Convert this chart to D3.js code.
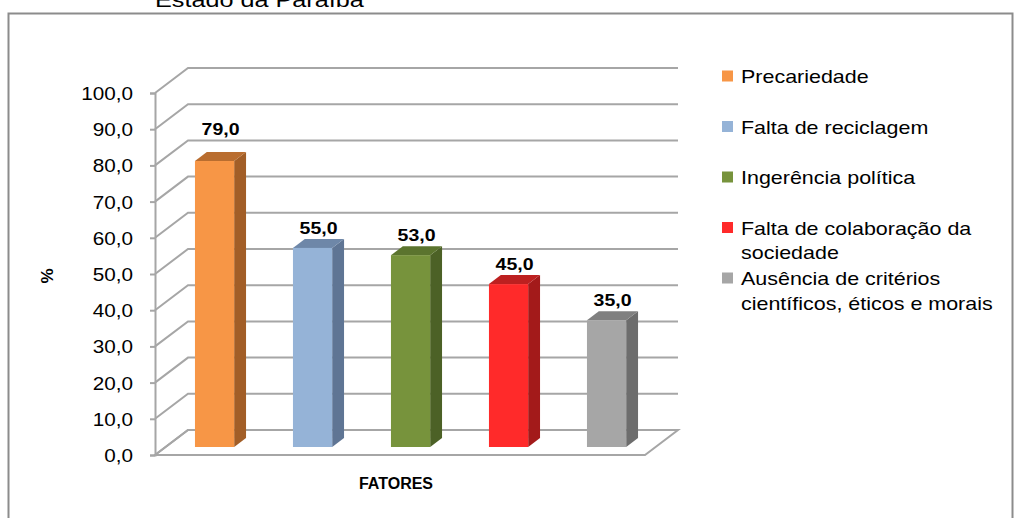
<html>
<head>
<style>
  body { margin: 0; background: #fff; }
  text { font-family: "Liberation Sans", Arial, sans-serif; }
</style>
</head>
<body>
<div id="chart"></div>
<script src="https://cdn.jsdelivr.net/npm/d3@7"></script>
<script>
// data
var fatores = ["Precariedade", "Falta de reciclagem", "Ingerência  política",
               "Falta de colaboração da sociedade", "Ausência de critérios científicos, éticos e morais"];
var valores = [79, 55, 53, 45, 35];
var legendLines = [["Precariedade"], ["Falta de reciclagem"], ["Ingerência  política"],
                   ["Falta de colaboração da", "sociedade"], ["Ausência de critérios", "científicos, éticos e morais"]];
var yTicks = [0, 10, 20, 30, 40, 50, 60, 70, 80, 90, 100];
var frontColors = ["#f79646", "#95b3d7", "#77933c", "#ff2a2a", "#a6a6a6"];
var sideColors  = ["#a25e27", "#5f7594", "#4c6126", "#a31a1a", "#6d6d6d"];
var topColors   = ["#b96d2f", "#6e87a8", "#5b742e", "#bd2020", "#808080"];

var W = 1014, H = 518;
var svg = d3.select("#chart").append("svg")
    .attr("width", W).attr("height", H);

// plot box (front plane) and depth of the 3d box
var pLeft = 155, pRight = 645, pBottom = 455, pTop = 93;
var depthX = 33, depthY = 25;

var y = d3.scaleLinear().domain([0, 100]).range([pBottom, pTop]);
var x = d3.scaleBand().domain(d3.range(fatores.length))
    .range([pLeft, pRight]).paddingInner(0.6).paddingOuter(0.3);

var fmt = function(v) { return d3.format(".1f")(v).replace(".", ","); };

// outer frame
svg.append("rect")
   .attr("x", 8.5).attr("y", 13.5).attr("width", 1004).attr("height", 530)
   .attr("fill", "none").attr("stroke", "#8c8c8c").attr("stroke-width", 2);

// title cut by the top of the picture
svg.append("text")
   .attr("transform", "translate(155,7) scale(1.2,1)")
   .attr("font-size", 21).attr("fill", "#000")
   .text("Estado da Paraíba");

// floor
svg.append("path")
   .attr("d", "M" + pLeft + "," + pBottom + "L" + pRight + "," + pBottom +
              "L" + (pRight + depthX) + "," + (pBottom - depthY) +
              "L" + (pLeft + depthX) + "," + (pBottom - depthY) + "Z")
   .attr("fill", "#fff").attr("stroke", "#a6a6a6").attr("stroke-width", 2);

// gridlines: side wall diagonal + back wall line
svg.append("g").selectAll("path")
   .data(yTicks).enter().append("path")
   .attr("d", function(d) {
      return "M" + pLeft + "," + y(d) +
             "L" + (pLeft + depthX) + "," + (y(d) - depthY) +
             "L" + (pRight + depthX) + "," + (y(d) - depthY);
   })
   .attr("fill", "none").attr("stroke", "#a6a6a6").attr("stroke-width", 2);

// y axis
var yAxis = svg.append("g")
   .attr("transform", "translate(" + pLeft + ",0)")
   .call(d3.axisLeft(y).tickValues(yTicks).tickSize(5).tickFormat(fmt));
yAxis.select(".domain").attr("stroke", "#a6a6a6").attr("stroke-width", 2);
yAxis.selectAll(".tick line").attr("stroke", "#a6a6a6").attr("stroke-width", 2);
yAxis.selectAll(".tick text")
   .attr("font-size", 18).attr("fill", "#000")
   .attr("font-family", "Liberation Sans, Arial, sans-serif")
   .attr("x", null).attr("dy", null)
   .attr("transform", "translate(-22,6.5) scale(1.15,1)");

// bars
var f0 = 0.32, f1 = 0.68;
var bw = x.bandwidth();
var dxd = (f1 - f0) * depthX, dyd = (f1 - f0) * depthY;

var bars = svg.append("g").selectAll("g")
   .data(valores).enter().append("g");

function xf(i) { return x(i) + f0 * depthX; }
function yb() { return pBottom - f0 * depthY; }
function yt(d) { return y(d) - f0 * depthY; }

bars.append("path")   // side
   .attr("d", function(d, i) {
      var a = xf(i) + bw;
      return "M" + a + "," + yt(d) + "L" + (a + dxd) + "," + (yt(d) - dyd) +
             "L" + (a + dxd) + "," + (yb() - dyd) + "L" + a + "," + yb() + "Z";
   })
   .attr("fill", function(d, i) { return sideColors[i]; });

bars.append("path")   // top
   .attr("d", function(d, i) {
      var a = xf(i);
      return "M" + a + "," + yt(d) + "L" + (a + bw) + "," + yt(d) +
             "L" + (a + bw + dxd) + "," + (yt(d) - dyd) + "L" + (a + dxd) + "," + (yt(d) - dyd) + "Z";
   })
   .attr("fill", function(d, i) { return topColors[i]; });

bars.append("rect")   // front
   .attr("x", function(d, i) { return xf(i); })
   .attr("y", function(d) { return yt(d); })
   .attr("width", bw)
   .attr("height", function(d) { return yb() - yt(d); })
   .attr("fill", function(d, i) { return frontColors[i]; });

// value labels (the tallest one sits a bit higher in the original)
bars.append("text")
   .attr("transform", function(d, i) {
      var off = d === d3.max(valores) ? 26 : 14;
      return "translate(" + (xf(i) + bw / 2 + 6) + "," + (yt(d) - off) + ") scale(1.22,1)";
   })
   .attr("text-anchor", "middle")
   .attr("font-size", 16).attr("font-weight", "bold").attr("fill", "#000")
   .text(function(d) { return fmt(d); });

// axis titles
svg.append("text")
   .attr("transform", "translate(53,276) rotate(-90)")
   .attr("text-anchor", "middle")
   .attr("font-size", 17).attr("font-weight", "bold")
   .text("%");

svg.append("text")
   .attr("x", 396).attr("y", 489)
   .attr("text-anchor", "middle")
   .attr("font-size", 16).attr("font-weight", "bold")
   .attr("font-family", "Open Sans, sans-serif")
   .text("FATORES");

// legend
var legend = svg.append("g").selectAll("g")
   .data(legendLines).enter().append("g")
   .attr("transform", function(d, i) { return "translate(722," + (76 + i * 50.5) + ")"; });

legend.append("rect")
   .attr("x", 0).attr("y", -5.5).attr("width", 11).attr("height", 11)
   .attr("fill", function(d, i) { return frontColors[i]; });

legend.each(function(lines) {
   var g = d3.select(this);
   lines.forEach(function(t, k) {
      g.append("text")
       .attr("transform", "translate(19," + (7 + k * 24.5) + ") scale(1.13,1)")
       .attr("font-size", 19).attr("fill", "#000")
       .text(t);
   });
});
</script>
</body>
</html>
